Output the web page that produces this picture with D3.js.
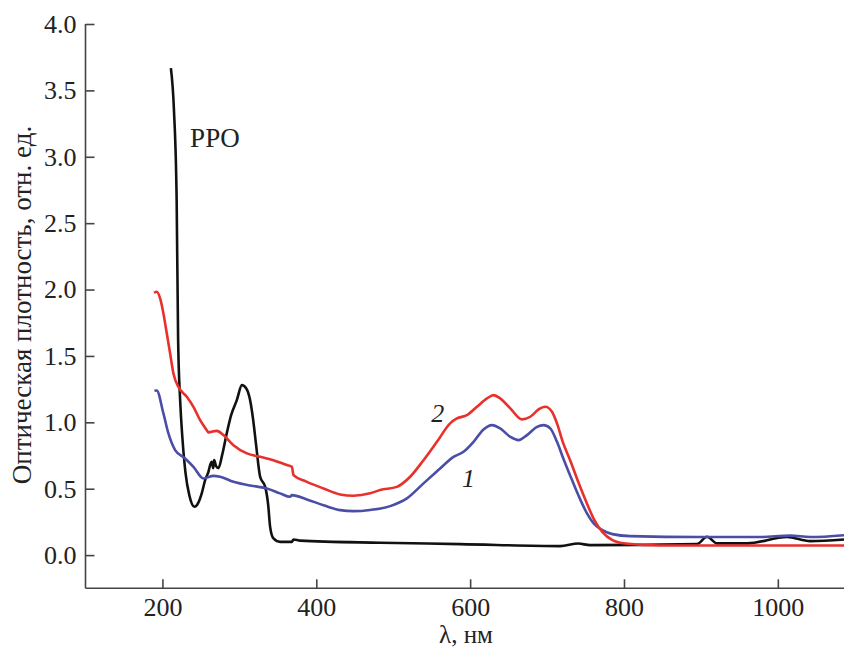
<!DOCTYPE html>
<meta charset="utf-8">
<script src="https://d3js.org/d3.v7.min.js"></script>
<style>
    body { margin: 0; background: #fff; }
    svg text { font-family: "Liberation Serif", "DejaVu Serif", serif; fill: #222; }
    .axis path, .axis line { stroke: #444; stroke-width: 1.6px; }
    .axis text { font-size: 26px; }
</style>
<div id="my_dataviz"></div>
<script>

    // wavelengths (nm) and optical density
    var ppoX = [211, 215, 218.5, 220.4, 223, 226, 230, 235, 241.6, 246.4, 251.2, 255.5, 259.8, 262, 264.2, 266, 267.2, 269.8, 272.8, 277.6, 283.7, 289.3, 296.7, 303.3, 308.8, 314, 318, 321.8, 327, 333.6, 337.5, 340, 344.3, 353, 368.3, 370.4, 379, 483, 587, 717, 740.6, 756, 895, 908, 921, 960, 1012, 1042, 1086];
    var ppoY = [3.667, 3.35, 2.67, 1.62, 1.17, 0.88, 0.62, 0.45, 0.364, 0.392, 0.467, 0.565, 0.627, 0.678, 0.703, 0.655, 0.715, 0.67, 0.655, 0.753, 0.919, 1.054, 1.167, 1.28, 1.257, 1.167, 1.017, 0.828, 0.59, 0.514, 0.377, 0.213, 0.126, 0.1, 0.1, 0.118, 0.109, 0.093, 0.083, 0.068, 0.087, 0.075, 0.083, 0.138, 0.088, 0.088, 0.136, 0.105, 0.118];

    var s1X = [189.6, 192.5, 201.3, 207.8, 216.5, 229.5, 240.3, 253.3, 266.3, 275, 292.3, 318.3, 335.8, 353, 366, 368.3, 387.8, 409.4, 431, 448.4, 470, 496, 517.8, 539.4, 561, 578.4, 591.4, 604.4, 617.4, 628.3, 639.1, 652.2, 663, 673.9, 686.9, 695.5, 704.2, 712.9, 721, 730, 740.6, 751, 761.5, 772, 785, 808, 899, 977, 1016, 1042, 1086];
    var s1Y = [1.237, 1.24, 1.067, 0.916, 0.791, 0.728, 0.665, 0.577, 0.597, 0.59, 0.552, 0.52, 0.502, 0.465, 0.439, 0.452, 0.419, 0.376, 0.339, 0.331, 0.34, 0.369, 0.427, 0.54, 0.653, 0.74, 0.778, 0.853, 0.946, 0.979, 0.954, 0.891, 0.866, 0.904, 0.966, 0.979, 0.954, 0.853, 0.73, 0.6, 0.452, 0.324, 0.233, 0.188, 0.158, 0.143, 0.136, 0.136, 0.147, 0.136, 0.15];

    var s2X = [189.2, 192.7, 197, 201.3, 205.7, 210, 214.3, 220.8, 231.7, 240.3, 249, 257.7, 259.8, 270.7, 279.3, 292.3, 309.8, 327, 344.3, 361.8, 368.3, 370.4, 387.8, 409.4, 431, 448.4, 470, 483, 504.8, 522, 539.4, 556.8, 574, 582.8, 595.8, 608.8, 621.9, 630.4, 639.1, 652.2, 667.4, 678.2, 689, 697.7, 706.4, 712.9, 721, 730, 740.6, 751, 761.5, 772, 785, 802, 847, 1086];
    var s2Y = [1.975, 1.983, 1.933, 1.82, 1.669, 1.519, 1.368, 1.267, 1.192, 1.117, 1.017, 0.941, 0.924, 0.936, 0.904, 0.828, 0.766, 0.74, 0.715, 0.678, 0.665, 0.602, 0.552, 0.502, 0.457, 0.447, 0.465, 0.49, 0.514, 0.59, 0.715, 0.853, 0.992, 1.029, 1.054, 1.117, 1.18, 1.205, 1.18, 1.105, 1.022, 1.042, 1.097, 1.117, 1.079, 0.992, 0.843, 0.715, 0.55, 0.4, 0.264, 0.173, 0.113, 0.087, 0.072, 0.072];

    var xTicks = [200, 400, 600, 800, 1000];
    var yTicks = [0, 0.5, 1, 1.5, 2, 2.5, 3, 3.5, 4];

    var series = [
        { name: "PPO", x: ppoX, y: ppoY, color: "#111111" },
        { name: "1", x: s1X, y: s1Y, color: "#4a4ea6" },
        { name: "2", x: s2X, y: s2Y, color: "#e8302c" }
    ];

    var W = 844, H = 648;
    var svg = d3.select("#my_dataviz")
        .append("svg")
        .attr("width", W)
        .attr("height", H);

    var x = d3.scaleLinear().domain([100, 1086]).range([85.5, 844]);
    var y = d3.scaleLinear().domain([-0.25, 4.0]).range([588.3, 24]);

    // axes, ticks point inward
    svg.append("g")
        .attr("class", "axis")
        .attr("transform", "translate(0," + y(-0.25) + ")")
        .call(d3.axisBottom(x).tickValues(xTicks).tickFormat(d3.format("d")).tickSize(-9).tickSizeOuter(0).tickPadding(9))
        .call(function (g) { g.select(".domain").attr("d", "M" + x(100) + ",0H" + W); });

    svg.append("g")
        .attr("class", "axis")
        .attr("transform", "translate(" + x(100) + ",0)")
        .call(d3.axisLeft(y).tickValues(yTicks).tickFormat(d3.format(".1f")).tickSize(-9).tickSizeOuter(0).tickPadding(9))
        .call(function (g) { g.select(".domain").attr("d", "M0," + y(4) + "V" + y(-0.25)); });

    // clip curves to the plot
    svg.append("clipPath").attr("id", "plot")
        .append("rect").attr("x", x(100)).attr("y", 0).attr("width", W - x(100)).attr("height", y(-0.25));

    var line = d3.line()
        .x(function (d) { return x(d[0]); })
        .y(function (d) { return y(d[1]); })
        .curve(d3.curveMonotoneX);

    svg.append("g")
        .attr("clip-path", "url(#plot)")
        .selectAll("path")
        .data(series)
        .enter().append("path")
        .attr("fill", "none")
        .attr("stroke", function (d) { return d.color; })
        .attr("stroke-width", 2.6)
        .attr("stroke-linejoin", "round")
        .attr("d", function (d) { return line(d.x.map(function (v, i) { return [v, d.y[i]]; })); });

    // curve labels
    svg.append("text").attr("x", x(236)).attr("y", y(3.07)).style("font-size", "27px").text("PPO");
    svg.append("text").attr("x", x(558)).attr("y", y(1.0)).attr("text-anchor", "middle")
        .style("font-size", "26px").style("font-style", "italic").text("2");
    svg.append("text").attr("x", x(598)).attr("y", y(0.51)).attr("text-anchor", "middle")
        .style("font-size", "26px").style("font-style", "italic").text("1");

    // axis titles
    svg.append("text")
        .attr("transform", "translate(31,305) rotate(-90)")
        .attr("text-anchor", "middle")
        .style("font-size", "27px")
        .text("Оптическая плотность, отн. ед.");

    svg.append("text")
        .attr("x", 466).attr("y", 643)
        .attr("text-anchor", "middle")
        .style("font-size", "25px")
        .text("λ, нм");

</script>
